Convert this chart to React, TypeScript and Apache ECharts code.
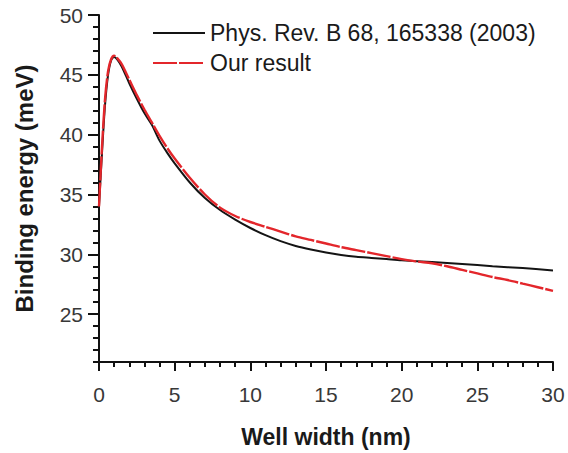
import React, { useEffect, useRef } from "react";
import * as echarts from "echarts";

// Well width (nm) sample points
const refWidth = [0, 0.2, 0.4, 0.6, 0.8, 1.0, 1.2, 1.5, 2, 2.5, 3, 3.5, 4, 4.5, 5, 6, 7, 8, 9, 10, 11, 12, 13, 14, 15, 16, 17, 18, 19, 20, 22, 24, 26, 28, 30];
// Binding energy (meV), Phys. Rev. B 68, 165338 (2003)
const refEnergy = [34.0, 38.5, 42.5, 45.0, 46.2, 46.5, 46.3, 45.7, 44.3, 43.0, 41.8, 40.8, 39.5, 38.5, 37.6, 36.0, 34.7, 33.7, 32.9, 32.2, 31.6, 31.1, 30.7, 30.4, 30.15, 29.95, 29.8, 29.7, 29.6, 29.5, 29.35, 29.2, 29.0, 28.85, 28.65];

const ourWidth = [0, 0.2, 0.4, 0.6, 0.8, 1.0, 1.2, 1.5, 2, 2.5, 3, 3.5, 4, 4.5, 5, 6, 7, 8, 9, 10, 11, 12, 13, 14, 15, 16, 17, 18, 19, 20, 21, 22, 23, 24, 25, 26, 27, 28, 29, 30];
// Binding energy (meV), our result
const ourEnergy = [34.0, 39.0, 43.0, 45.3, 46.3, 46.6, 46.4, 45.9, 44.6, 43.3, 42.1, 41.0, 39.9, 38.9, 38.0, 36.4, 35.0, 33.9, 33.2, 32.7, 32.3, 31.9, 31.5, 31.2, 30.9, 30.6, 30.35, 30.1, 29.85, 29.6, 29.4, 29.25, 29.0, 28.7, 28.4, 28.1, 27.85, 27.55, 27.25, 26.95];

const yMajorTicks = [25, 30, 35, 40, 45, 50];
const legendNames = ["Phys. Rev. B 68, 165338 (2003)", "Our result"];

const FONT = "'Liberation Sans', Arial, Helvetica, sans-serif";

export default function App() {
  const ref = useRef<HTMLDivElement>(null);

  useEffect(() => {
    document.body.style.margin = "0";
    const chart = echarts.init(ref.current!, undefined, { renderer: "svg" });

    const zip = (xs: number[], ys: number[]) => xs.map((x, i) => [x, ys[i]]);

    chart.setOption({
      animation: false,
      backgroundColor: "#ffffff",
      grid: { left: 99, right: 15, top: 15, bottom: 91 },
      legend: {
        orient: "vertical",
        left: 152,
        top: 21,
        padding: 0,
        itemWidth: 52,
        itemHeight: 14,
        itemGap: 6,
        itemStyle: { opacity: 0 },
        textStyle: { fontFamily: FONT, fontSize: 23, color: "#1a1a1a", lineHeight: 24 },
        data: legendNames,
      },
      xAxis: {
        type: "value",
        min: 0,
        max: 30,
        interval: 5,
        axisLine: { show: true, onZero: false, lineStyle: { color: "#111", width: 2 } },
        axisTick: { show: true, inside: false, length: 9, lineStyle: { color: "#111", width: 2 } },
        minorTick: { show: true, splitNumber: 5, length: 5, lineStyle: { color: "#111", width: 2 } },
        axisLabel: { fontFamily: FONT, fontSize: 21, color: "#383838", margin: 22 },
        splitLine: { show: false },
        name: "Well width (nm)",
        nameLocation: "middle",
        nameGap: 63,
        nameTextStyle: { fontFamily: FONT, fontSize: 23, fontWeight: "bold", color: "#1a1a1a" },
      },
      yAxis: [
        {
          type: "value",
          min: 21,
          max: 50,
          interval: 1,
          position: "left",
          axisLine: { show: true, lineStyle: { color: "#111", width: 2 } },
          axisTick: { show: true, inside: false, length: 6, lineStyle: { color: "#111", width: 2 } },
          axisLabel: { show: false },
          splitLine: { show: false },
        },
        {
          type: "value",
          min: 21,
          max: 50,
          position: "left",
          axisLine: { show: false },
          axisTick: { show: true, inside: false, length: 11, customValues: yMajorTicks, lineStyle: { color: "#111", width: 2 } },
          axisLabel: { show: true, customValues: yMajorTicks, fontFamily: FONT, fontSize: 21, color: "#383838", margin: 16 },
          splitLine: { show: false },
          name: "Binding energy (meV)",
          nameLocation: "middle",
          nameGap: 63,
          nameRotate: 90,
          nameTextStyle: { fontFamily: FONT, fontSize: 24, fontWeight: "bold", color: "#1a1a1a" },
        },
      ],
      series: [
        {
          name: legendNames[0],
          type: "line",
          yAxisIndex: 0,
          smooth: 0.3,
          symbol: "none",
          lineStyle: { color: "#141414", width: 2 },
          itemStyle: { color: "#141414" },
          data: zip(refWidth, refEnergy),
          z: 2,
        },
        {
          name: legendNames[1],
          type: "line",
          yAxisIndex: 0,
          smooth: 0.3,
          symbol: "none",
          lineStyle: { color: "#e3262b", width: 2.4, type: [24, 2] },
          itemStyle: { color: "#e3262b" },
          data: zip(ourWidth, ourEnergy),
          z: 3,
        },
      ],
    });

    return () => chart.dispose();
  }, []);

  return <div ref={ref} style={{ width: 568, height: 453 }} />;
}
